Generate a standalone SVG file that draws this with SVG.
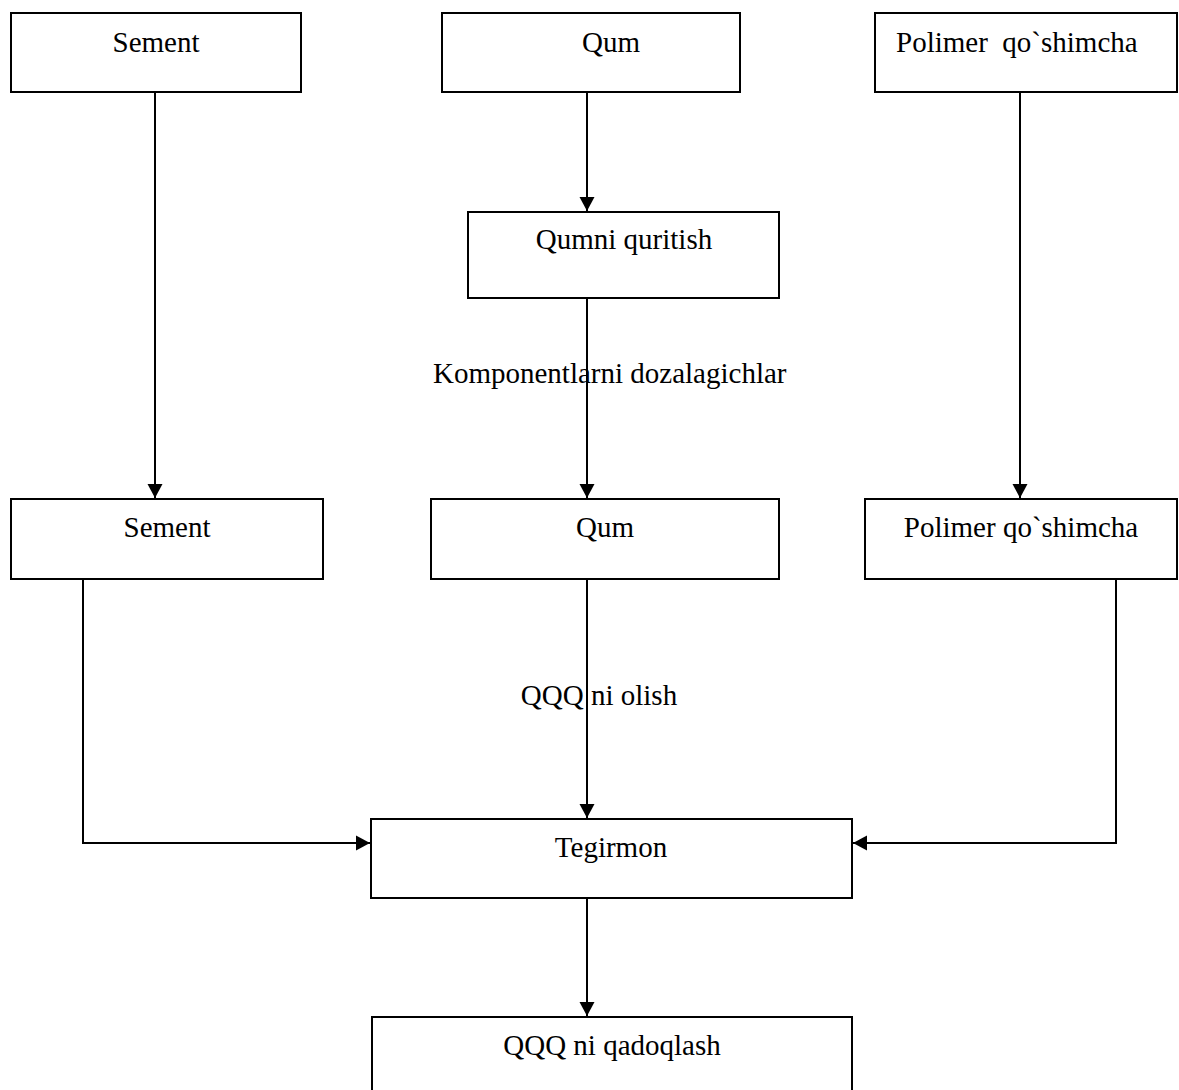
<svg xmlns="http://www.w3.org/2000/svg" width="1179" height="1090" viewBox="0 0 1179 1090">
<style>
.box{fill:#fff;stroke:#000;stroke-width:2}
.lbl{font-family:"Liberation Serif","Times New Roman",serif;font-size:29px;fill:#000}
.c{text-anchor:middle}
.conn{fill:none;stroke:#000;stroke-width:2}
</style>
<defs>
<marker id="arr" markerUnits="userSpaceOnUse" markerWidth="16" markerHeight="16" viewBox="0 0 16 16" refX="14" refY="8" orient="auto">
<path d="M0,0.5 L14,8 L0,15.5 Z" fill="#000"/>
</marker>
</defs>
<rect width="1179" height="1090" fill="#fff"/>
<g id="connectors">
<path class="conn" d="M155,92 V498" marker-end="url(#arr)"/>
<path class="conn" d="M587,92 V211" marker-end="url(#arr)"/>
<path class="conn" d="M587,298 V498" marker-end="url(#arr)"/>
<path class="conn" d="M1020,92 V498" marker-end="url(#arr)"/>
<path class="conn" d="M83,579 V843 H370" marker-end="url(#arr)"/>
<path class="conn" d="M587,579 V818" marker-end="url(#arr)"/>
<path class="conn" d="M1116,579 V843 H853" marker-end="url(#arr)"/>
<path class="conn" d="M587,898 V1016" marker-end="url(#arr)"/>
<text class="lbl" x="433" y="383">Komponentlarni dozalagichlar</text>
<text class="lbl c" x="599" y="705">QQQ ni olish</text>
</g>
<g id="n-sement1"><rect class="box" x="11" y="13" width="290" height="79"/><text class="lbl c" x="156" y="52">Sement</text></g>
<g id="n-qum1"><rect class="box" x="442" y="13" width="298" height="79"/><text class="lbl c" x="611" y="52">Qum</text></g>
<g id="n-polimer1"><rect class="box" x="875" y="13" width="302" height="79"/><text class="lbl" x="896" y="52" xml:space="preserve">Polimer  qo`shimcha</text></g>
<g id="n-quritish"><rect class="box" x="468" y="212" width="311" height="86"/><text class="lbl c" x="624" y="249">Qumni quritish</text></g>
<g id="n-sement2"><rect class="box" x="11" y="499" width="312" height="80"/><text class="lbl c" x="167" y="537">Sement</text></g>
<g id="n-qum2"><rect class="box" x="431" y="499" width="348" height="80"/><text class="lbl c" x="605" y="537">Qum</text></g>
<g id="n-polimer2"><rect class="box" x="865" y="499" width="312" height="80"/><text class="lbl c" x="1021" y="537">Polimer qo`shimcha</text></g>
<g id="n-tegirmon"><rect class="box" x="371" y="819" width="481" height="79"/><text class="lbl c" x="611" y="857">Tegirmon</text></g>
<g id="n-qadoqlash"><rect class="box" x="372" y="1017" width="480" height="90"/><text class="lbl c" x="612" y="1055">QQQ ni qadoqlash</text></g>
</svg>
